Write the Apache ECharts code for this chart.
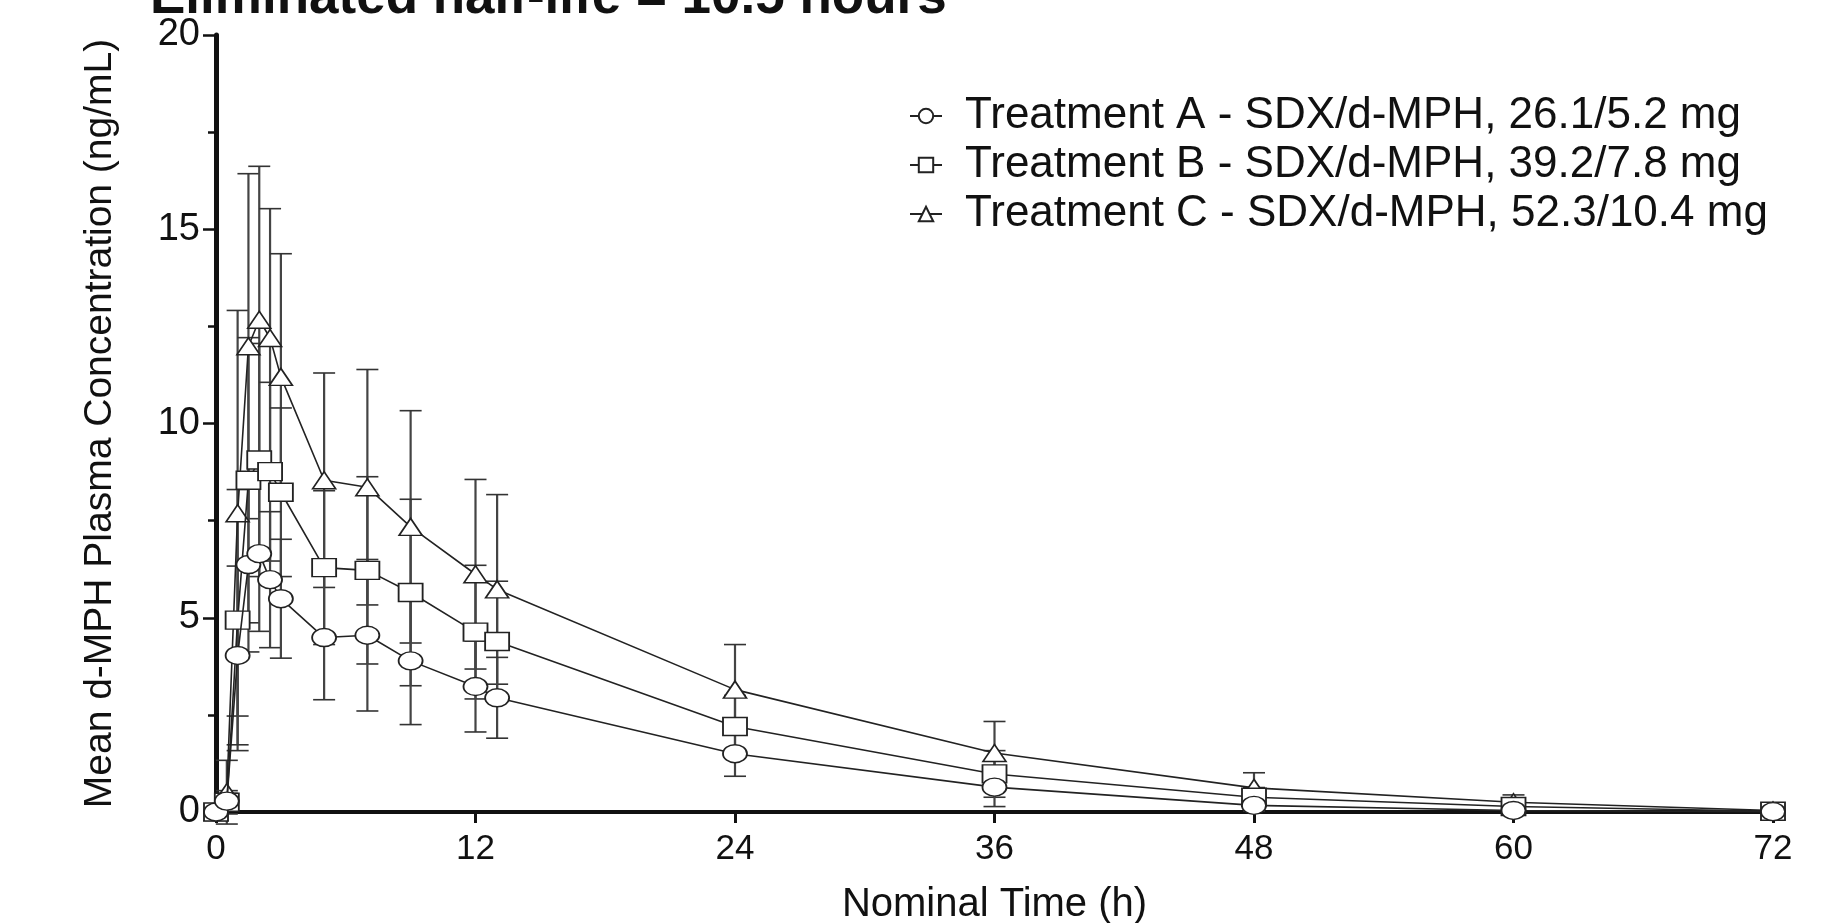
<!DOCTYPE html>
<html>
<head>
<meta charset="utf-8">
<script src="https://cdn.jsdelivr.net/npm/echarts@6/dist/echarts.min.js"></script>
<style>
html,body{margin:0;padding:0;background:#fff;}
#chart{width:1847px;height:923px;}
</style>
</head>
<body>
<div id="chart"></div>
<script>
// ---- data ----
const times = [0, 0.5, 1, 1.5, 2, 2.5, 3, 5, 7, 9, 12, 13, 24, 36, 48, 60, 72];

const seriesNames = [
  'Treatment A - SDX/d-MPH, 26.1/5.2 mg',
  'Treatment B - SDX/d-MPH, 39.2/7.8 mg',
  'Treatment C - SDX/d-MPH, 52.3/10.4 mg'
];

const meanA = [0, 0.28, 4.03, 6.37, 6.65, 5.98, 5.49, 4.49, 4.55, 3.89, 3.23, 2.94, 1.50, 0.64, 0.17, 0.04, 0.01];
const sdA   = [0, 0.20, 2.30, 2.25, 2.00, 1.75, 1.53, 1.60, 1.95, 1.64, 1.17, 1.04, 0.58, 0.50, 0.15, 0.05, 0.01];

const meanB = [0, 0.25, 4.94, 8.54, 9.06, 8.76, 8.23, 6.29, 6.22, 5.65, 4.63, 4.39, 2.20, 0.98, 0.38, 0.14, 0.02];
const sdB   = [0, 0.30, 3.36, 3.67, 3.00, 2.30, 2.17, 1.98, 2.41, 2.40, 1.72, 1.55, 0.80, 0.60, 0.25, 0.10, 0.02];

const meanC = [0, 0.51, 7.69, 11.99, 12.67, 12.20, 11.20, 8.54, 8.36, 7.34, 6.12, 5.73, 3.15, 1.52, 0.62, 0.25, 0.04];
const sdC   = [0, 0.82, 5.22, 4.44, 3.95, 3.33, 3.17, 2.76, 3.03, 2.99, 2.44, 2.44, 1.16, 0.81, 0.39, 0.19, 0.03];

const xTicks = [0, 12, 24, 36, 48, 60, 72];
const yTicks = [0, 5, 10, 15, 20];

const titleText = 'Eliminated half-life = 10.5 hours';
const xTitle = 'Nominal Time (h)';
const yTitle = 'Mean d-MPH Plasma Concentration (ng/mL)';

// ---- build ----
const FONT = '"Liberation Sans", Arial, Helvetica, sans-serif';
const INK = '#111';

function pairs(means) { return times.map((t, i) => [t, means[i]]); }
function bars(means, sds) { return times.map((t, i) => [t, means[i] - sds[i], means[i] + sds[i]]); }

function renderErr(params, api) {
  const x = api.value(0), lo = api.value(1), hi = api.value(2);
  if (hi - lo < 1e-6) return null;
  const pLo = api.coord([x, lo]);
  const pHi = api.coord([x, hi]);
  const hw = 11;
  const st = {stroke: '#333', lineWidth: 1.6, fill: null};
  return {
    type: 'group',
    children: [
      {type: 'line', shape: {x1: pLo[0], y1: pLo[1], x2: pHi[0], y2: pHi[1]}, style: {stroke: '#444', lineWidth: 2.2}},
      {type: 'line', shape: {x1: pHi[0] - hw, y1: pHi[1], x2: pHi[0] + hw, y2: pHi[1]}, style: st},
      {type: 'line', shape: {x1: pLo[0] - hw, y1: pLo[1], x2: pLo[0] + hw, y2: pLo[1]}, style: st}
    ]
  };
}

const symbols = ['circle', 'rect', 'triangle'];
const symSizes = [[24, 18], [24, 18], [23, 17]];
const means = [meanA, meanB, meanC];
const sds = [sdA, sdB, sdC];

const series = [];
// error bars underneath
[2, 1, 0].forEach(k => {
  series.push({
    type: 'custom',
    name: 'err' + k,
    renderItem: renderErr,
    data: bars(means[k], sds[k]),
    encode: {x: 0, y: [1, 2]},
    clip: false,
    z: 1,
    silent: true
  });
});
// lines with markers (C bottom, A on top)
[2, 1, 0].forEach(k => {
  series.push({
    type: 'line',
    name: seriesNames[k],
    data: pairs(means[k]),
    symbol: symbols[k],
    symbolSize: symSizes[k],
    showAllSymbol: true,
    clip: false,
    z: 3 + (2 - k),
    lineStyle: {color: '#222', width: 1.6},
    itemStyle: {color: '#fff', borderColor: '#222', borderWidth: 1.6}
  });
});

const chart = echarts.init(document.getElementById('chart'), null, {renderer: 'canvas'});
chart.setOption({
  animation: false,
  backgroundColor: '#fff',
  title: {
    text: titleText,
    left: 150,
    top: -28,
    padding: 0,
    textStyle: {fontFamily: FONT, fontSize: 53, fontWeight: 'bold', color: INK}
  },
  legend: {
    data: seriesNames,
    orient: 'vertical',
    left: 904,
    top: 89,
    itemWidth: 32,
    itemHeight: 18,
    itemGap: 5,
    textStyle: {fontFamily: FONT, fontSize: 44, color: INK, padding: [0, 0, 0, 18]},
    inactiveColor: '#999'
  },
  grid: {left: 216, right: 74, top: 35, bottom: 111, containLabel: false, outerBoundsMode: 'none'},
  xAxis: {
    type: 'value',
    min: 0,
    max: 72,
    interval: 12,
    name: xTitle,
    nameLocation: 'middle',
    nameGap: 73,
    nameTextStyle: {fontFamily: FONT, fontSize: 40, color: INK},
    axisLine: {show: true, onZero: false, lineStyle: {color: INK, width: 4}},
    axisTick: {show: true, inside: false, length: 11, lineStyle: {color: INK, width: 3}},
    axisLabel: {
      margin: 20, fontFamily: FONT, fontSize: 35, color: INK,
      formatter: v => (xTicks.indexOf(v) >= 0 ? String(v) : '')
    },
    splitLine: {show: false}
  },
  yAxis: {
    type: 'value',
    min: 0,
    max: 20,
    interval: 5,
    name: yTitle,
    nameLocation: 'middle',
    nameRotate: 90,
    nameGap: 96,
    nameTextStyle: {fontFamily: FONT, fontSize: 39, color: INK},
    axisLine: {show: true, onZero: false, lineStyle: {color: INK, width: 5}},
    axisTick: {show: true, inside: false, length: 13, lineStyle: {color: INK, width: 2.5}},
    minorTick: {show: true, splitNumber: 2, length: 8, lineStyle: {color: INK, width: 2.5}},
    axisLabel: {
      margin: 16, fontFamily: FONT, fontSize: 38, color: INK,
      formatter: v => (yTicks.indexOf(v) >= 0 ? String(v) : '')
    },
    splitLine: {show: false},
    minorSplitLine: {show: false}
  },
  series: series
});
</script>
</body>
</html>
